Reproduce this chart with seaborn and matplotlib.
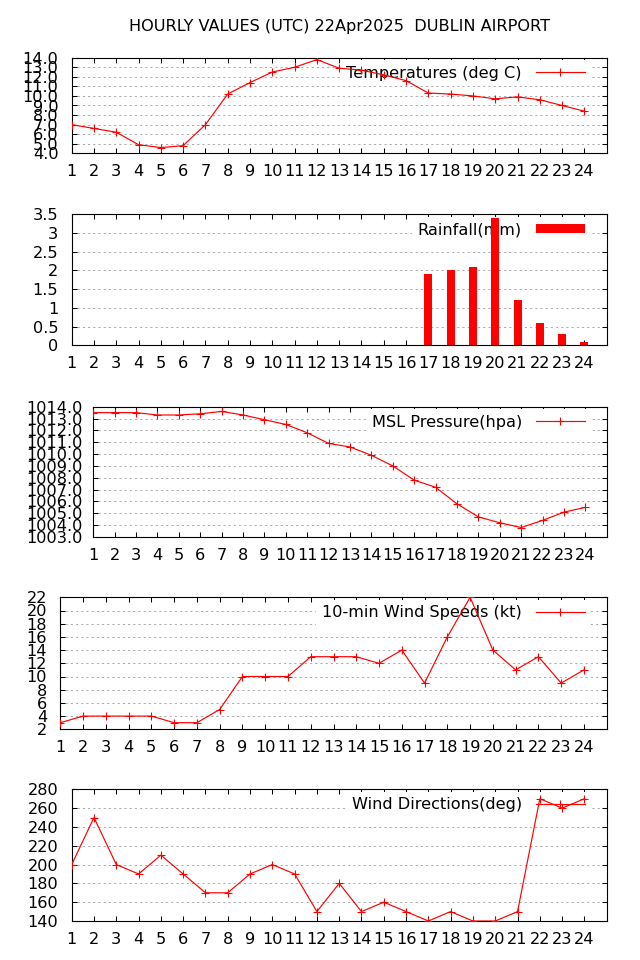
import matplotlib
matplotlib.use("Agg")
import matplotlib.pyplot as plt
import matplotlib.transforms as mtransforms
from matplotlib.patches import Patch
from matplotlib.lines import Line2D
import seaborn as sns

# ---------------- data ----------------
hours = [1, 2, 3, 4, 5, 6, 7, 8, 9, 10, 11, 12, 13, 14, 15, 16, 17, 18, 19, 20, 21, 22, 23, 24]
temperature = [7.0, 6.6, 6.2, 4.9, 4.6, 4.8, 7.0, 10.2, 11.4, 12.5, 13.0, 13.8,
               12.9, 12.7, 12.2, 11.6, 10.3, 10.2, 10.0, 9.7, 9.9, 9.6, 9.0, 8.4]
rainfall = [0, 0, 0, 0, 0, 0, 0, 0, 0, 0, 0, 0,
            0, 0, 0, 0, 1.9, 2.0, 2.1, 3.4, 1.2, 0.6, 0.3, 0.1]
pressure = [1013.5, 1013.5, 1013.5, 1013.3, 1013.3, 1013.4, 1013.6, 1013.3, 1012.9, 1012.5, 1011.8, 1010.9,
            1010.6, 1009.9, 1009.0, 1007.8, 1007.2, 1005.8, 1004.7, 1004.2, 1003.8, 1004.4, 1005.1, 1005.5]
wind_speed = [3, 4, 4, 4, 4, 3, 3, 5, 10, 10, 10, 13, 13, 13, 12, 14, 9, 16, 22, 14, 11, 13, 9, 11]
wind_dir = [200, 250, 200, 190, 210, 190, 170, 170, 190, 200, 190, 150,
            180, 150, 160, 150, 140, 150, 140, 140, 150, 270, 260, 270]

temp_ticks = [4.0, 5.0, 6.0, 7.0, 8.0, 9.0, 10.0, 11.0, 12.0, 13.0, 14.0]
temp_labels = ["4.0", "5.0", "6.0", "7.0", "8.0", "9.0", "10.0", "11.0", "12.0", "13.0", "14.0"]
rain_ticks = [0, 0.5, 1, 1.5, 2, 2.5, 3, 3.5]
rain_labels = ["0", "0.5", "1", "1.5", "2", "2.5", "3", "3.5"]
pres_ticks = [1003, 1004, 1005, 1006, 1007, 1008, 1009, 1010, 1011, 1012, 1013, 1014]
pres_labels = ["1003.0", "1004.0", "1005.0", "1006.0", "1007.0", "1008.0", "1009.0",
               "1010.0", "1011.0", "1012.0", "1013.0", "1014.0"]
speed_ticks = [2, 4, 6, 8, 10, 12, 14, 16, 18, 20, 22]
speed_labels = ["2", "4", "6", "8", "10", "12", "14", "16", "18", "20", "22"]
dir_ticks = [140, 160, 180, 200, 220, 240, 260, 280]
dir_labels = ["140", "160", "180", "200", "220", "240", "260", "280"]

title = "HOURLY VALUES (UTC) 22Apr2025  DUBLIN AIRPORT"

# ---------------- style ----------------
plt.rcParams["font.family"] = ["DejaVu Sans"]
FS = 11.6
RED = "#ff0000"
W, H, DPI = 640, 960, 100
RIGHT = 606.7

fig = plt.figure(figsize=(W / DPI, H / DPI), dpi=DPI)


def make_axes(left, top, bottom):
    return fig.add_axes([left / W, 1 - bottom / H, (RIGHT - left) / W, (bottom - top) / H])


def style_axes(ax, yticks, ylabels, ylim, ypad):
    ax.set_xlim(1, 25)
    ax.set_ylim(*ylim)
    ax.set_xticks(hours)
    ax.set_xticklabels([str(h) for h in hours])
    ax.set_yticks(yticks)
    ax.set_yticklabels(ylabels)
    ax.set_xlabel("")
    ax.set_ylabel("")
    ax.set_axisbelow(True)
    ax.grid(False)
    ax.yaxis.grid(True, color="#a8a8a8", linewidth=0.72, linestyle=(0, (2, 3.2)))
    ax.tick_params(axis="both", which="both", direction="in", length=3.3, width=0.75,
                   top=True, right=True, labelsize=FS, colors="black")
    ax.tick_params(axis="x", pad=8.0)
    ax.tick_params(axis="y", pad=ypad)
    for s in ax.spines.values():
        s.set_linewidth(0.8)
        s.set_color("black")
    ax.set_facecolor("white")


def add_legend(ax, handle, label, handleheight=0.7):
    b = 0.35
    fs_px = FS * DPI / 72.0
    offset = mtransforms.ScaledTranslation((-22 + b * fs_px) / DPI, -15.5 / DPI, fig.dpi_scale_trans)
    leg = ax.legend([handle], [label], loc="center right", bbox_to_anchor=(1, 1),
                    bbox_transform=ax.transAxes + offset, markerfirst=False, numpoints=1,
                    handlelength=3.05, handletextpad=0.85, handleheight=handleheight,
                    borderpad=b, borderaxespad=0, frameon=True, fancybox=False,
                    framealpha=1, facecolor="white", edgecolor="none", fontsize=FS)
    leg.get_frame().set_linewidth(0)
    leg.set_zorder(1)
    return leg


def line_panel(ax, values, label):
    sns.lineplot(x=hours, y=values, ax=ax, color=RED, linewidth=0.85, marker="+",
                 markersize=5.5, markeredgewidth=0.8, markeredgecolor=RED, zorder=3)
    h = Line2D([], [], color=RED, linewidth=0.85, marker="+", markersize=5.5,
               markeredgewidth=0.8, markeredgecolor=RED)
    add_legend(ax, h, label)


# Panel 1: temperatures
ax1 = make_axes(71.7, 57.7, 153.3)
line_panel(ax1, temperature, "Temperatures (deg C)")
style_axes(ax1, temp_ticks, temp_labels, (4, 14), 9.6)

# Panel 2: rainfall
ax2 = make_axes(71.7, 214.3, 345.3)
sns.barplot(x=hours, y=rainfall, ax=ax2, native_scale=True, width=0.36, color=RED,
            saturation=1, errorbar=None, zorder=2, linewidth=0)
add_legend(ax2, Patch(facecolor=RED, edgecolor="none"), "Rainfall(mm)", handleheight=0.55)
style_axes(ax2, rain_ticks, rain_labels, (0, 3.5), 9.6)

# Panel 3: pressure
ax3 = make_axes(93.3, 406.7, 537.0)
line_panel(ax3, pressure, "MSL Pressure(hpa)")
style_axes(ax3, pres_ticks, pres_labels, (1003, 1014), 7.4)

# Panel 4: wind speed
ax4 = make_axes(60.3, 597.3, 729.3)
line_panel(ax4, wind_speed, "10-min Wind Speeds (kt)")
style_axes(ax4, speed_ticks, speed_labels, (2, 22), 9.6)

# Panel 5: wind direction
ax5 = make_axes(71.7, 789.3, 921.0)
line_panel(ax5, wind_dir, "Wind Directions(deg)")
style_axes(ax5, dir_ticks, dir_labels, (140, 280), 9.6)

fig.text((71.7 + RIGHT) / 2 / W, 1 - 27 / H, title, ha="center", va="center",
         fontsize=FS, color="black")

fig.savefig("out.png", dpi=DPI, facecolor="white")
